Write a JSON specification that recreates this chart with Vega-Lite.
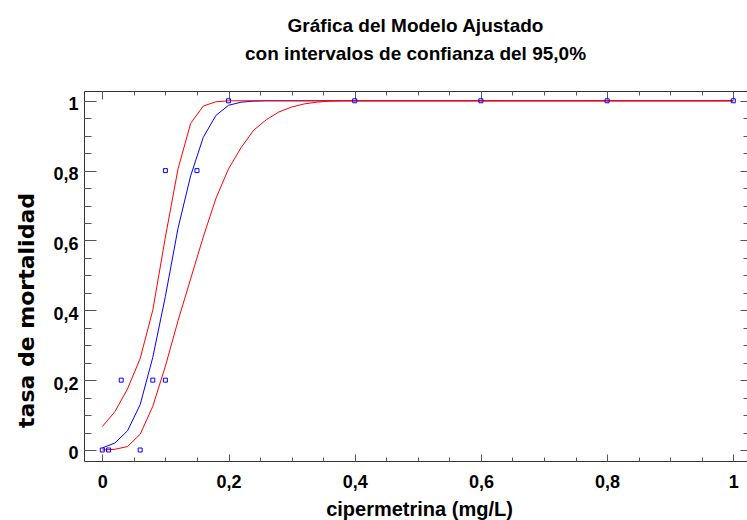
{
  "$schema": "https://vega.github.io/schema/vega-lite/v6.json",
  "width": 663,
  "height": 370,
  "autosize": {"type": "none"},
  "padding": {"left": 84, "top": 91, "right": 0, "bottom": 59},
  "background": "white",
  "config": {
    "view": {"stroke": "#333", "strokeWidth": 1},
    "font": "Liberation Sans"
  },
  "title": {
    "text": ["Gráfica del Modelo Ajustado", "con intervalos de confianza del 95,0%"],
    "font": "Liberation Sans",
    "fontSize": 19,
    "fontWeight": "bold",
    "color": "black",
    "lineHeight": 28,
    "anchor": "middle",
    "offset": 27
  },
  "datasets": {
    "curvas": [
      {"serie": "ajuste", "x": 0, "y": 0.006},
      {"serie": "ajuste", "x": 0.02, "y": 0.02},
      {"serie": "ajuste", "x": 0.04, "y": 0.055},
      {"serie": "ajuste", "x": 0.06, "y": 0.13},
      {"serie": "ajuste", "x": 0.08, "y": 0.265},
      {"serie": "ajuste", "x": 0.1, "y": 0.44},
      {"serie": "ajuste", "x": 0.12, "y": 0.635},
      {"serie": "ajuste", "x": 0.14, "y": 0.785},
      {"serie": "ajuste", "x": 0.16, "y": 0.895},
      {"serie": "ajuste", "x": 0.18, "y": 0.958},
      {"serie": "ajuste", "x": 0.2, "y": 0.987},
      {"serie": "ajuste", "x": 0.22, "y": 0.996},
      {"serie": "ajuste", "x": 0.24, "y": 0.999},
      {"serie": "ajuste", "x": 0.26, "y": 1.0},
      {"serie": "ajuste", "x": 1.0, "y": 1.0},
      {"serie": "superior", "x": 0, "y": 0.067},
      {"serie": "superior", "x": 0.02, "y": 0.11},
      {"serie": "superior", "x": 0.04, "y": 0.175},
      {"serie": "superior", "x": 0.06, "y": 0.262},
      {"serie": "superior", "x": 0.08, "y": 0.4},
      {"serie": "superior", "x": 0.1, "y": 0.61},
      {"serie": "superior", "x": 0.12, "y": 0.805},
      {"serie": "superior", "x": 0.14, "y": 0.935},
      {"serie": "superior", "x": 0.16, "y": 0.985},
      {"serie": "superior", "x": 0.18, "y": 0.997},
      {"serie": "superior", "x": 0.2, "y": 1.0},
      {"serie": "superior", "x": 1.0, "y": 1.0},
      {"serie": "inferior", "x": 0, "y": 0.0},
      {"serie": "inferior", "x": 0.02, "y": 0.002},
      {"serie": "inferior", "x": 0.04, "y": 0.01},
      {"serie": "inferior", "x": 0.06, "y": 0.045},
      {"serie": "inferior", "x": 0.08, "y": 0.125},
      {"serie": "inferior", "x": 0.1, "y": 0.24},
      {"serie": "inferior", "x": 0.12, "y": 0.37},
      {"serie": "inferior", "x": 0.14, "y": 0.49},
      {"serie": "inferior", "x": 0.16, "y": 0.61},
      {"serie": "inferior", "x": 0.18, "y": 0.72},
      {"serie": "inferior", "x": 0.2, "y": 0.805},
      {"serie": "inferior", "x": 0.22, "y": 0.866},
      {"serie": "inferior", "x": 0.24, "y": 0.916},
      {"serie": "inferior", "x": 0.26, "y": 0.946},
      {"serie": "inferior", "x": 0.28, "y": 0.968},
      {"serie": "inferior", "x": 0.3, "y": 0.982},
      {"serie": "inferior", "x": 0.32, "y": 0.991},
      {"serie": "inferior", "x": 0.34, "y": 0.996},
      {"serie": "inferior", "x": 0.36, "y": 0.999},
      {"serie": "inferior", "x": 0.38, "y": 1.0},
      {"serie": "inferior", "x": 1.0, "y": 1.0}
    ],
    "observados": [
      {"x": 0, "y": 0},
      {"x": 0.01, "y": 0},
      {"x": 0.03, "y": 0.2},
      {"x": 0.06, "y": 0},
      {"x": 0.08, "y": 0.2},
      {"x": 0.1, "y": 0.2},
      {"x": 0.1, "y": 0.8},
      {"x": 0.15, "y": 0.8},
      {"x": 0.2, "y": 1},
      {"x": 0.4, "y": 1},
      {"x": 0.6, "y": 1},
      {"x": 0.8, "y": 1},
      {"x": 1, "y": 1}
    ]
  },
  "layer": [
    {
      "data": {"name": "curvas"},
      "transform": [{"filter": "datum.serie == 'ajuste'"}],
      "mark": {"type": "line", "color": "#0000ff", "strokeWidth": 1},
      "encoding": {
        "x": {
          "field": "x", "type": "quantitative",
          "scale": {"domain": [-0.029, 1.0217], "nice": false, "zero": false},
          "axis": {
            "orient": "bottom",
            "title": "cipermetrina (mg/L)",
            "titleFont": "Liberation Sans", "titleFontSize": 20, "titleFontWeight": "bold", "titleColor": "black",
            "titleX": 335, "titleY": 54, "titleBaseline": "alphabetic",
            "domain": false, "grid": false,
            "values": [0,0.05,0.1,0.15,0.2,0.25,0.3,0.35,0.4,0.45,0.5,0.55,0.6,0.65,0.7,0.75,0.8,0.85,0.9,0.95,1],
            "tickColor": "#555",
            "tickSize": {"condition": {"test": "round(datum.value*100) % 20 == 0", "value": -7}, "value": -4},
            "labelExpr": "round(datum.value*100) % 20 == 0 ? replace(format(datum.value, '.1~f'), '.', ',') : ''",
            "labelFont": "Liberation Sans", "labelFontSize": 18, "labelFontWeight": "bold", "labelColor": "black",
            "labelPadding": 19, "labelFlush": false, "labelOverlap": false
          }
        },
        "y": {
          "field": "y", "type": "quantitative",
          "scale": {"domain": [-0.0315, 1.028], "nice": false, "zero": false},
          "axis": {
            "orient": "left",
            "title": "tasa de mortalidad",
            "titleFont": "DejaVu Sans", "titleFontSize": 22, "titleFontWeight": "bold", "titleColor": "black",
            "titleX": -51, "titleY": 219, "titleBaseline": "alphabetic", "titleAngle": -90, "titleAlign": "center",
            "domain": false, "grid": false,
            "values": [0,0.05,0.1,0.15,0.2,0.25,0.3,0.35,0.4,0.45,0.5,0.55,0.6,0.65,0.7,0.75,0.8,0.85,0.9,0.95,1],
            "tickColor": "#555",
            "tickSize": {"condition": {"test": "round(datum.value*100) % 20 == 0", "value": -12}, "value": -7},
            "labelExpr": "round(datum.value*100) % 20 == 0 ? replace(format(datum.value, '.1~f'), '.', ',') : ''",
            "labelFont": "Liberation Sans", "labelFontSize": 18, "labelFontWeight": "bold", "labelColor": "black",
            "labelPadding": 18, "labelBaseline": "middle", "labelOffset": 4, "labelFlush": false, "labelOverlap": false
          }
        }
      }
    },
    {
      "data": {"name": "curvas"},
      "transform": [{"filter": "datum.serie != 'ajuste'"}],
      "mark": {"type": "line", "color": "#ff0000", "strokeWidth": 1},
      "encoding": {
        "x": {"field": "x", "type": "quantitative", "axis": null},
        "y": {"field": "y", "type": "quantitative", "axis": null},
        "detail": {"field": "serie", "type": "nominal"}
      }
    },
    {
      "data": {"name": "observados"},
      "mark": {"type": "square", "size": 16, "filled": false, "color": "#0000ff", "strokeWidth": 1, "opacity": 1},
      "encoding": {
        "x": {
          "field": "x", "type": "quantitative",
          "axis": {
            "orient": "top", "title": null, "labels": false, "domain": false, "grid": false,
            "values": [0,0.05,0.1,0.15,0.2,0.25,0.3,0.35,0.4,0.45,0.5,0.55,0.6,0.65,0.7,0.75,0.8,0.85,0.9,0.95,1],
            "tickColor": "#555",
            "tickSize": {"condition": {"test": "round(datum.value*100) % 20 == 0", "value": -8}, "value": -4}
          }
        },
        "y": {
          "field": "y", "type": "quantitative",
          "axis": {
            "orient": "right", "title": null, "labels": false, "domain": false, "grid": false,
            "values": [0,0.05,0.1,0.15,0.2,0.25,0.3,0.35,0.4,0.45,0.5,0.55,0.6,0.65,0.7,0.75,0.8,0.85,0.9,0.95,1],
            "tickColor": "#555",
            "tickSize": {"condition": {"test": "round(datum.value*100) % 20 == 0", "value": -7}, "value": -4}
          }
        }
      }
    }
  ]
}
